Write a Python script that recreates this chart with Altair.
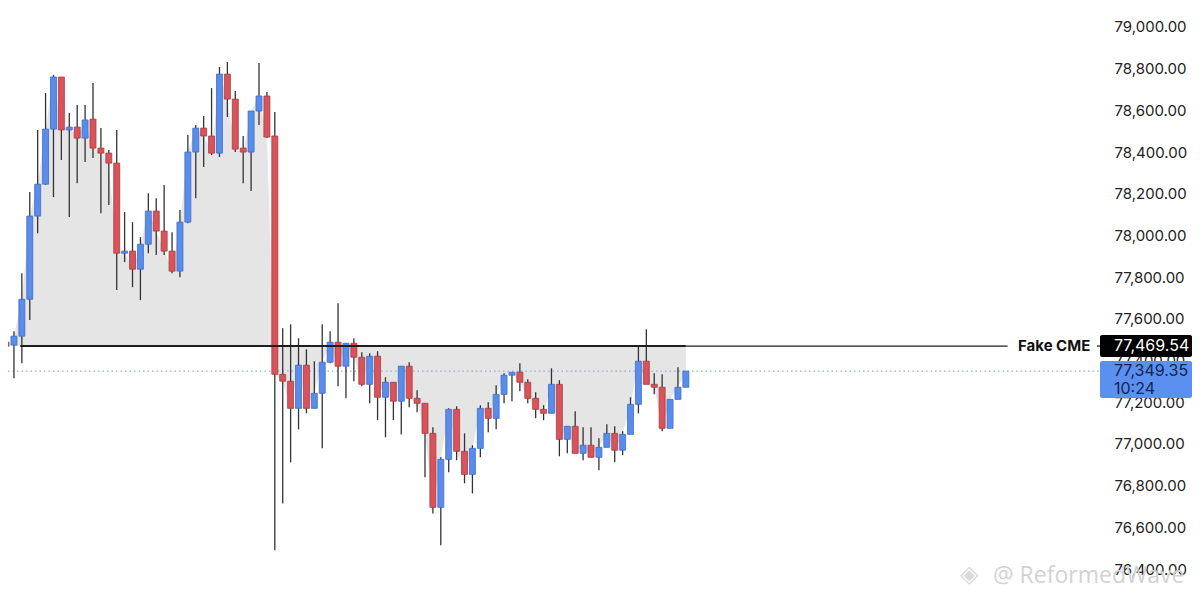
"""Candlestick chart with the 'Fake CME' level and the gap shaded in grey."""
import altair as alt
import pandas as pd

# candle OHLC values (one 15-minute style candle per slot)
OPEN = [77488, 77474, 77517, 77694, 78093, 78246, 78510, 78760, 78506, 78520,
        78467, 78558, 78419, 78395, 78347, 77915, 77925, 77838, 77958, 78117,
        78021, 77925, 77829, 78064, 78400, 78515, 78477, 78395, 78774, 78654,
        78419, 78400, 78597, 78669, 78477, 77334, 77301, 77171, 77378, 77171,
        77243, 77392, 77488, 77373, 77483, 77416, 77286, 77421, 77224, 77296,
        77205, 77373, 77219, 77195, 77051, 76696, 76926, 77166, 76965, 76854,
        76979, 77171, 77123, 77238, 77330, 77344, 77296, 77219, 77166, 77147,
        77286, 77022, 77085, 76955, 76994, 76936, 76984, 77051, 76970, 77046,
        77190, 77397, 77286, 77272, 77075, 77214, 77272]
HIGH = [77546, 77541, 77819, 78208, 78506, 78683, 78770, 78760, 78587, 78626,
        78626, 78731, 78515, 78410, 78506, 78112, 78064, 77992, 78203, 78179,
        78242, 78016, 78122, 78482, 78530, 78573, 78707, 78808, 78832, 78693,
        78477, 78597, 78827, 78688, 78592, 77555, 77574, 77507, 77454, 77397,
        77574, 77541, 77675, 77483, 77507, 77440, 77435, 77445, 77320, 77296,
        77373, 77392, 77258, 77195, 77080, 76936, 77171, 77181, 77051, 76994,
        77186, 77200, 77282, 77339, 77344, 77387, 77310, 77248, 77186, 77363,
        77306, 77085, 77157, 77080, 77080, 77027, 77094, 77085, 77061, 77224,
        77469, 77550, 77339, 77334, 77214, 77368, 77349]
LOW = [77354, 77315, 77387, 77594, 78011, 78242, 78184, 78362, 78088, 78251,
       78352, 78371, 78107, 78146, 77738, 77872, 77752, 77690, 77915, 77906,
       77906, 77819, 77800, 78059, 78179, 78328, 78386, 78376, 78568, 78400,
       78251, 78213, 78530, 78467, 76490, 76715, 76912, 77070, 77147, 77171,
       76979, 77387, 77277, 77219, 77301, 77277, 77195, 77114, 77032, 77114,
       77046, 77176, 77152, 76840, 76667, 76514, 76864, 76922, 76811, 76763,
       76936, 77056, 77070, 77195, 77205, 77253, 77195, 77123, 77114, 77147,
       76941, 76955, 76955, 76922, 76936, 76874, 76984, 76912, 76946, 77046,
       77147, 77286, 77238, 77061, 77075, 77214, 77272]
CLOSE = [77469, 77517, 77694, 78093, 78246, 78510, 78760, 78506, 78520, 78467,
         78554, 78419, 78395, 78347, 77915, 77925, 77838, 77958, 78117, 78021,
         77925, 77829, 78064, 78400, 78515, 78477, 78395, 78774, 78654, 78414,
         78400, 78597, 78669, 78472, 77334, 77301, 77171, 77378, 77171, 77243,
         77392, 77488, 77373, 77483, 77416, 77286, 77421, 77224, 77296, 77205,
         77373, 77219, 77195, 77051, 76696, 76926, 77166, 76965, 76854, 76979,
         77171, 77123, 77238, 77330, 77344, 77296, 77219, 77166, 77147, 77286,
         77022, 77085, 76955, 76994, 76936, 76984, 77051, 76970, 77046, 77190,
         77397, 77286, 77272, 77075, 77214, 77272, 77349.35]

CME_LEVEL = 77469.54
LAST_PRICE = 77349.35
LAST_TIME = "10:24"
PRICE_TICKS = [76400, 76600, 76800, 77000, 77200, 77400, 77600, 77800, 78000,
               78200, 78400, 78600, 78800, 79000]

FONT = "Inter"
UP, DOWN = "#5a8de8", "#d9545a"

df = pd.DataFrame({"i": range(len(OPEN)), "open": OPEN, "high": HIGH,
                   "low": LOW, "close": CLOSE})
df["dir"] = ["up" if c >= o else "down" for o, c in zip(OPEN, CLOSE)]
df["level"] = CME_LEVEL

x_scale = alt.Scale(domain=[0.88, 138.77], nice=False, zero=False)
y_scale = alt.Scale(domain=[76290, 79091], nice=False, zero=False)
x_enc = alt.X("i:Q", scale=x_scale, axis=None)

base = alt.Chart(df)

gap = (
    alt.Chart(df[df["i"] >= 1])
    .mark_area(color="#e5e5e5", clip=True)
    .encode(
        x=x_enc,
        y=alt.Y("close:Q", scale=y_scale, axis=alt.Axis(
            orient="right", values=PRICE_TICKS, format=",.2f", domain=False,
            ticks=False, tickSize=0, grid=False, labelPadding=6, zindex=0,
            labelFont=FONT, labelFontSize=15, labelColor="#222222", title=None,
        )),
        y2="level:Q",
    )
)

last_line = (
    alt.Chart(pd.DataFrame({"p": [LAST_PRICE]}))
    .mark_rule(color="#86aef0", strokeWidth=1.2, strokeDash=[1.5, 3])
    .encode(y=alt.Y("p:Q", scale=y_scale), x=alt.value(0), x2=alt.value(1096))
)

wicks = (
    base.mark_rule(color="#333333", strokeWidth=1.3, clip=True)
    .encode(x=x_enc, y=alt.Y("low:Q", scale=y_scale), y2="high:Q")
)

bodies = (
    base.mark_bar(size=6, orient="vertical", strokeWidth=0.8, clip=True)
    .encode(
        x=x_enc,
        y=alt.Y("open:Q", scale=y_scale),
        y2="close:Q",
        color=alt.Color("dir:N", legend=None,
                        scale=alt.Scale(domain=["up", "down"], range=[UP, DOWN])),
        stroke=alt.Stroke("dir:N", legend=None,
                          scale=alt.Scale(domain=["up", "down"], range=["#3d6cd0", "#a93b40"])),
    )
)

cme = pd.DataFrame({"x": [1.8, 86], "x2": [86, 126.7], "w": [2.0, 1.3], "p": CME_LEVEL})
cme_line = (
    alt.Chart(cme)
    .mark_rule(color="#1e1e1e")
    .encode(x=alt.X("x:Q", scale=x_scale), x2="x2:Q",
            y=alt.Y("p:Q", scale=y_scale),
            strokeWidth=alt.StrokeWidth("w:Q", scale=None, legend=None))
)

cme_label = (
    alt.Chart(pd.DataFrame({"p": [CME_LEVEL], "t": ["Fake CME"]}))
    .mark_text(font=FONT, fontSize=15, fontWeight="bold", color="#111111",
               align="left", baseline="middle")
    .encode(y=alt.Y("p:Q", scale=y_scale), x=alt.value(1010), text="t:N")
)
cme_dash = (
    alt.Chart(pd.DataFrame({"p": [CME_LEVEL]}))
    .mark_rule(color="#1e1e1e", strokeWidth=1.3)
    .encode(y=alt.Y("p:Q", scale=y_scale), x=alt.value(1089), x2=alt.value(1093))
)

# price tags on the right edge
tags = pd.DataFrame({
    "top": [CME_LEVEL + 53, 77398], "bottom": [CME_LEVEL - 53, 77220],
    "fill": ["#000000", "#5b8ff0"],
})
tag_boxes = (
    alt.Chart(tags)
    .mark_rect(cornerRadius=2)
    .encode(y=alt.Y("top:Q", scale=y_scale), y2="bottom:Q",
            x=alt.value(1092), x2=alt.value(1184),
            color=alt.Color("fill:N", scale=None))
)
tag_text = pd.DataFrame({
    "p": [CME_LEVEL, LAST_PRICE, LAST_PRICE],
    "t": [f"{CME_LEVEL:,.2f}", f"{LAST_PRICE:,.2f}", LAST_TIME],
    "c": ["#ffffff", "#14254d", "#14254d"],
    "dy": [0, 0, 18],
})
tag_labels = alt.layer(*[
    alt.Chart(tag_text.iloc[[k]])
    .mark_text(font=FONT, fontSize=16, align="left", baseline="middle", dy=int(row.dy))
    .encode(y=alt.Y("p:Q", scale=y_scale), x=alt.value(1106), text="t:N",
            color=alt.Color("c:N", scale=None))
    for k, row in tag_text.iterrows()
])

mark_wm = (
    alt.Chart(pd.DataFrame({"t": ["◈"]}))
    .mark_text(font="DejaVu Sans", fontSize=24, color="#dadada", align="left",
               baseline="alphabetic")
    .encode(x=alt.value(952), y=alt.value(574), text="t:N")
)
text_wm = (
    alt.Chart(pd.DataFrame({"t": ["@ ReformedWave"]}))
    .mark_text(font="Open Sans", fontSize=23, color="#d2d2d2", align="left",
               baseline="alphabetic")
    .encode(x=alt.value(985), y=alt.value(575), text="t:N")
)

chart = (
    alt.layer(gap, last_line, wicks, bodies, cme_line, cme_label, cme_dash,
              tag_boxes, tag_labels, mark_wm, text_wm)
    .properties(width=1100, height=584, background="#ffffff",
                padding={"left": 0, "top": 0, "right": 84, "bottom": 0},
                autosize=alt.AutoSizeParams(type="none"))
    .configure_view(stroke=None)
)

chart.save("out.html", embed_options={"renderer": "svg", "actions": False})
